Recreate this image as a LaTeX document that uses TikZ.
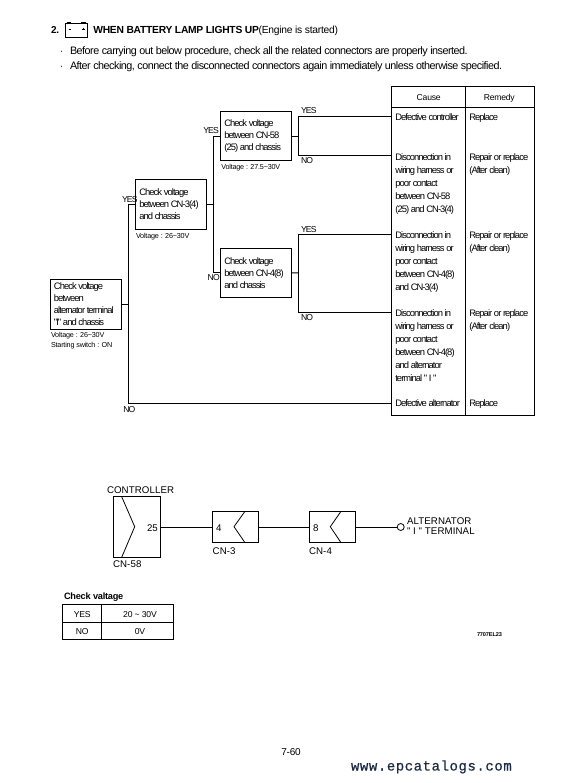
\documentclass[tikz,border=0pt]{standalone}
\usepackage{fontspec}
\setmainfont{Liberation Sans}[LetterSpace=-2.5]
\newfontfamily\bodyfont{Liberation Sans}[LetterSpace=-4.6]
\newfontfamily\tightfont{Liberation Sans}[LetterSpace=-10]
\newfontfamily\wmfont{Liberation Mono}[FakeBold=0.6,LetterSpace=4]
\newfontfamily\plainfont{Liberation Sans}[LetterSpace=1]
\definecolor{wmcolor}{HTML}{1C2B45}
\begin{document}
\begin{tikzpicture}[x=1pt,y=-1pt,line width=0.8pt,
  every node/.style={inner sep=0pt,outer sep=0pt},
  checkbox/.style={draw,fill=white,anchor=north west,align=flush left,font=\tightfont\fontsize{9.4}{12}\selectfont,
     inner xsep=3.6pt,minimum height=#1,text width=63.5pt},
  wire/.style={line width=0.8pt},
  lab/.style={anchor=base west,font=\tightfont\fontsize{8.6}{10}\selectfont},
  note/.style={anchor=base west,font=\fontsize{7.2}{8}\selectfont},
  cell/.style={anchor=north west,align=left,font=\tightfont\fontsize{9.4}{13}\selectfont,execute at begin node=\strut},
  ctext/.style={anchor=base,font=\fontsize{8.6}{10}\selectfont},
  dlab/.style={anchor=base west,font=\plainfont\fontsize{9.7}{9}\selectfont},
  body/.style={anchor=base west,font=\bodyfont\fontsize{10.8}{11}\selectfont},
  conn/.style={draw,anchor=north west,minimum width=#1}
]
\useasboundingbox (0,0) rectangle (563,783);
% header
\node[anchor=base west,font=\fontsize{10}{12}\bfseries\selectfont] (num) at (51,33.5) {2.};
\draw[line width=0.8pt] (65,23.3) rectangle (87.2,37.2);
\draw[line width=1.4pt] (66.5,22.4) -- (71,22.4) (81,22.4) -- (85.5,22.4);
\draw[line width=0.6pt] (68.5,29) -- (70.9,29) (82.1,29) -- (84.5,29) (83.3,27.8) -- (83.3,30.2);
\node[anchor=base west,font=\fontsize{10.28}{12}\selectfont] (title) at (93.3,33.5) {\textbf{WHEN BATTERY LAMP LIGHTS UP}(Engine is started)};
\node[body] (b1) at (60,54.8) {$\cdot$};
\node[body] (b2) at (60,69.8) {$\cdot$};
\node[body] (t1) at (70,54.8) {Before carrying out below procedure, check all the related connectors are properly inserted.};
\node[body] (t2) at (70,69.8) {After checking, connect the disconnected connectors again immediately unless otherwise specified.};
% check boxes
\node[checkbox=50pt] (boxA) at (50.3,279.3) {Check voltage\\between\\alternator terminal\\"I" and chassis};
\node[checkbox=50pt] (boxB) at (135.7,179.3) {Check voltage\\between CN-3(4)\\and chassis};
\node[checkbox=49.4pt] (boxC) at (220.7,111.3) {Check voltage\\between CN-58\\(25) and chassis};
\node[checkbox=49.7pt] (boxD) at (220.7,248) {Check voltage\\between CN-4(8)\\and chassis};
% notes
\node[note] (nA1) at (51,337.8) {Voltage : 26\textasciitilde30V};
\node[note] (nA2) at (51,347.2) {Starting switch : ON};
\node[note] (nB) at (136,238.2) {Voltage : 26\textasciitilde30V};
\node[note] (nC) at (221.3,169.8) {Voltage : 27.5\textasciitilde30V};
% cause table
\draw[line width=0.9pt] (391.7,86) rectangle (534.3,415);
\draw[line width=0.9pt] (465.3,86) -- (465.3,415);
\draw[line width=1.4pt] (391.7,107.7) -- (534.3,107.7);
\node[ctext] (hc) at (428.7,100.7) {Cause};
\node[ctext] (hr) at (499.3,100.7) {Remedy};
\node[cell] (c1) at (395.3,111.7) {Defective controller};
\node[cell] (c2) at (395.3,154) {Disconnection in\\wiring harness or\\poor contact\\between CN-58\\(25) and CN-3(4)};
\node[cell] (c3) at (395.3,231.6) {Disconnection in\\wiring harness or\\poor contact\\between CN-4(8)\\and CN-3(4)};
\node[cell] (c4) at (395.3,309.6) {Disconnection in\\wiring harness or\\poor contact\\between CN-4(8)\\and alternator\\terminal " I "};
\node[cell] (c5) at (395.3,397.3) {Defective alternator};
\node[cell] (r1) at (469.3,111.7) {Replace};
\node[cell] (r2) at (469.3,154) {Repair or replace\\(After clean)};
\node[cell] (r3) at (469.3,231.6) {Repair or replace\\(After clean)};
\node[cell] (r4) at (469.3,309.6) {Repair or replace\\(After clean)};
\node[cell] (r5) at (469.3,397.3) {Replace};
% connector coordinates
\coordinate (jA) at (128.3,304.3);
\coordinate (jB) at (213.7,204.3);
\coordinate (jC) at (298.3,136);
\coordinate (jD) at (298.3,272.85);
\coordinate (e1) at (391.7,116.7);
\coordinate (e2) at (391.7,155.3);
\coordinate (e3) at (391.7,234.3);
\coordinate (e4) at (391.7,312.3);
\coordinate (e5) at (391.7,403.3);
\draw[wire] (boxA.east) -- (jA);
\draw[wire] (boxB.west) -| (jA);
\draw[wire] (jA) |- (e5);
\draw[wire] (boxB.east) -- (jB);
\draw[wire] (boxC.west) -| (jB);
\draw[wire] (boxD.west) -| (jB);
\draw[wire] (boxC.east) -- (jC);
\draw[wire] (jC) |- (e1);
\draw[wire] (jC) |- (e2);
\draw[wire] (boxD.east) -- (jD);
\draw[wire] (jD) |- (e3);
\draw[wire] (jD) |- (e4);
% yes/no labels
\node[lab] (y1) at (122,202.8) {YES};
\node[lab] (n1) at (123.3,412) {NO};
\node[lab] (y2) at (203.3,133.5) {YES};
\node[lab] (n2) at (207.7,280.6) {NO};
\node[lab] (y3) at (301,113.5) {YES};
\node[lab] (n3) at (301,163.8) {NO};
\node[lab] (y4) at (301,232.8) {YES};
\node[lab] (n4) at (301,320.1) {NO};
% circuit
\node[conn=47pt,minimum height=60.6pt] (cn58) at (113.3,496.7) {};
\node[conn=46.4pt,minimum height=31.4pt] (cn3) at (212.3,511.3) {};
\node[conn=46pt,minimum height=31.4pt] (cn4) at (309,511.3) {};
\node[draw,circle,minimum size=7pt] (term) at (400.7,527) {};
\draw (121.7,496.7) -- (134.7,526.7) -- (121.7,557.3);
\draw (245,511.3) -- (234,526.7) -- (245,542.7);
\draw (341,511.3) -- (330.3,526.7) -- (341,542.7);
\draw (cn58.east) -- (cn3.west);
\draw (cn3.east) -- (cn4.west);
\draw (cn4.east) -- (term.west);
\node[dlab] (lc) at (107,493.5) {CONTROLLER};
\node[dlab] (l25) at (147,531) {25};
\node[dlab] (l4) at (216,531) {4};
\node[dlab] (l8) at (313,531) {8};
\node[dlab] (l58) at (113,567) {CN-58};
\node[dlab] (l3) at (212.7,554) {CN-3};
\node[dlab] (l44) at (309,554) {CN-4};
\node[dlab] (la1) at (407,524.5) {ALTERNATOR};
\node[dlab] (la2) at (407,534) {" I " TERMINAL};
% check table
\node[anchor=base west,font=\fontsize{9.2}{10}\bfseries\selectfont] (cv) at (64,599) {Check valtage};
\draw[line width=0.8pt] (62.7,604.7) rectangle (173.3,639);
\draw[line width=0.8pt] (101.7,604.7) -- (101.7,639) (62.7,622.7) -- (173.3,622.7);
\node[ctext] (ty) at (82.3,617.7) {YES};
\node[ctext] (tn) at (82.3,634.3) {NO};
\node[ctext] (tv) at (140,617.7) {20 \textasciitilde\ 30V};
\node[ctext] (t0) at (140,634.3) {0V};
\node[anchor=base west,font=\fontsize{5.6}{6}\bfseries\selectfont] (code) at (477,636) {7707EL23};
% footer
\node[font=\fontsize{10}{12}\selectfont] (page) at (291,752) {7-60};
\node[anchor=base west,text=wmcolor,font=\wmfont\fontsize{14}{14}\selectfont] (wm) at (351,770.5) {www.epcatalogs.com};
\end{tikzpicture}
\end{document}
